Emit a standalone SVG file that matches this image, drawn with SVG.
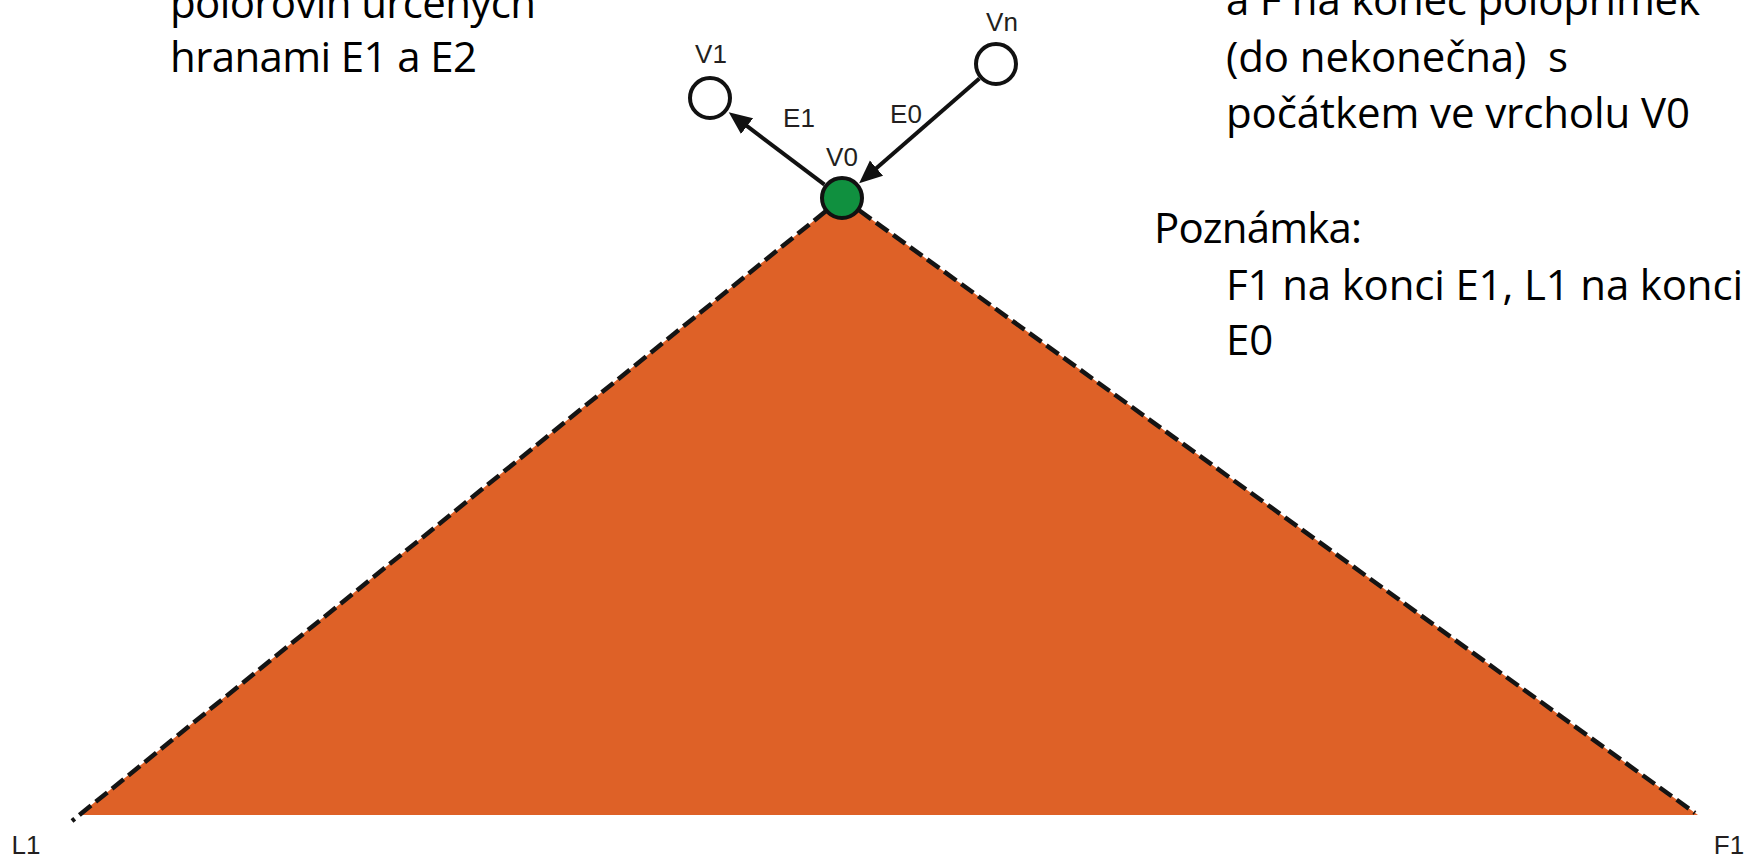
<svg xmlns="http://www.w3.org/2000/svg" width="1753" height="860" viewBox="0 0 1753 860">
  <style>
    .note { font-family: "Open Sans", "Liberation Sans", sans-serif; font-size: 42px; fill: #000; white-space: pre; }
    .lbl { font-family: "Liberation Sans", Arial, sans-serif; font-size: 26px; fill: #231f20; text-anchor: middle; }
    .edge { stroke: #111; stroke-width: 4; fill: none; }
    .bound { stroke: #141414; stroke-width: 4.5; stroke-dasharray: 15 6; fill: none; }
    .vtx { stroke: #111; stroke-width: 4; }
  </style>
  <defs>
    <marker id="arrow" markerUnits="userSpaceOnUse" markerWidth="26" markerHeight="24" viewBox="0 -12 26 24" refX="9" refY="0" orient="auto">
      <path d="M0,-10 L23,0 L0,10 z" fill="#111"/>
    </marker>
  </defs>
  <rect width="1753" height="860" fill="#fff"/>

  <!-- left note -->
  <g id="note-left">
    <text class="note" x="170" y="18" textLength="366">polorovin určených</text>
    <text class="note" x="170" y="72" textLength="307">hranami E1 a E2</text>
  </g>

  <!-- right note -->
  <g id="note-right">
    <text class="note" x="1226" y="15" textLength="474">a F na konec polopřímek</text>
    <text class="note" x="1226" y="72" textLength="342">(do nekonečna)  s</text>
    <text class="note" x="1226" y="128" textLength="464">počátkem ve vrcholu V0</text>
    <text class="note" x="1154" y="243" textLength="208">Poznámka:</text>
    <text class="note" x="1226" y="300" textLength="517">F1 na konci E1, L1 na konci</text>
    <text class="note" x="1226" y="355">E0</text>
  </g>

  <!-- region between the two half-lines -->
  <g id="region">
    <polygon points="842,198 79,815 1698,815" fill="#DE6127"/>
  </g>

  <!-- connectors -->
  <g id="connectors">
    <path class="bound" d="M842,198 L72,821"/>
    <path class="bound" d="M842,198 L1695,813"/>
    <path class="edge" d="M824.5,184.7 L739.9,120.7" marker-end="url(#arrow)"/>
    <path class="edge" d="M979.4,78.4 L869.7,174.0" marker-end="url(#arrow)"/>
    <text class="lbl" x="799" y="127">E1</text>
    <text class="lbl" x="906" y="123">E0</text>
  </g>

  <!-- vertices -->
  <g id="V0">
    <circle class="vtx" cx="842" cy="198" r="20" fill="#10903F"/>
    <text class="lbl" x="842" y="166">V0</text>
  </g>
  <g id="V1">
    <circle class="vtx" cx="710" cy="98" r="20" fill="#fff"/>
    <text class="lbl" x="711" y="63">V1</text>
  </g>
  <g id="Vn">
    <circle class="vtx" cx="996" cy="64" r="20" fill="#fff"/>
    <text class="lbl" x="1002" y="31">Vn</text>
  </g>

  <!-- far ends of the half-lines -->
  <g id="L1">
    <text class="lbl" x="26" y="854">L1</text>
  </g>
  <g id="F1">
    <text class="lbl" x="1729" y="854">F1</text>
  </g>
</svg>
